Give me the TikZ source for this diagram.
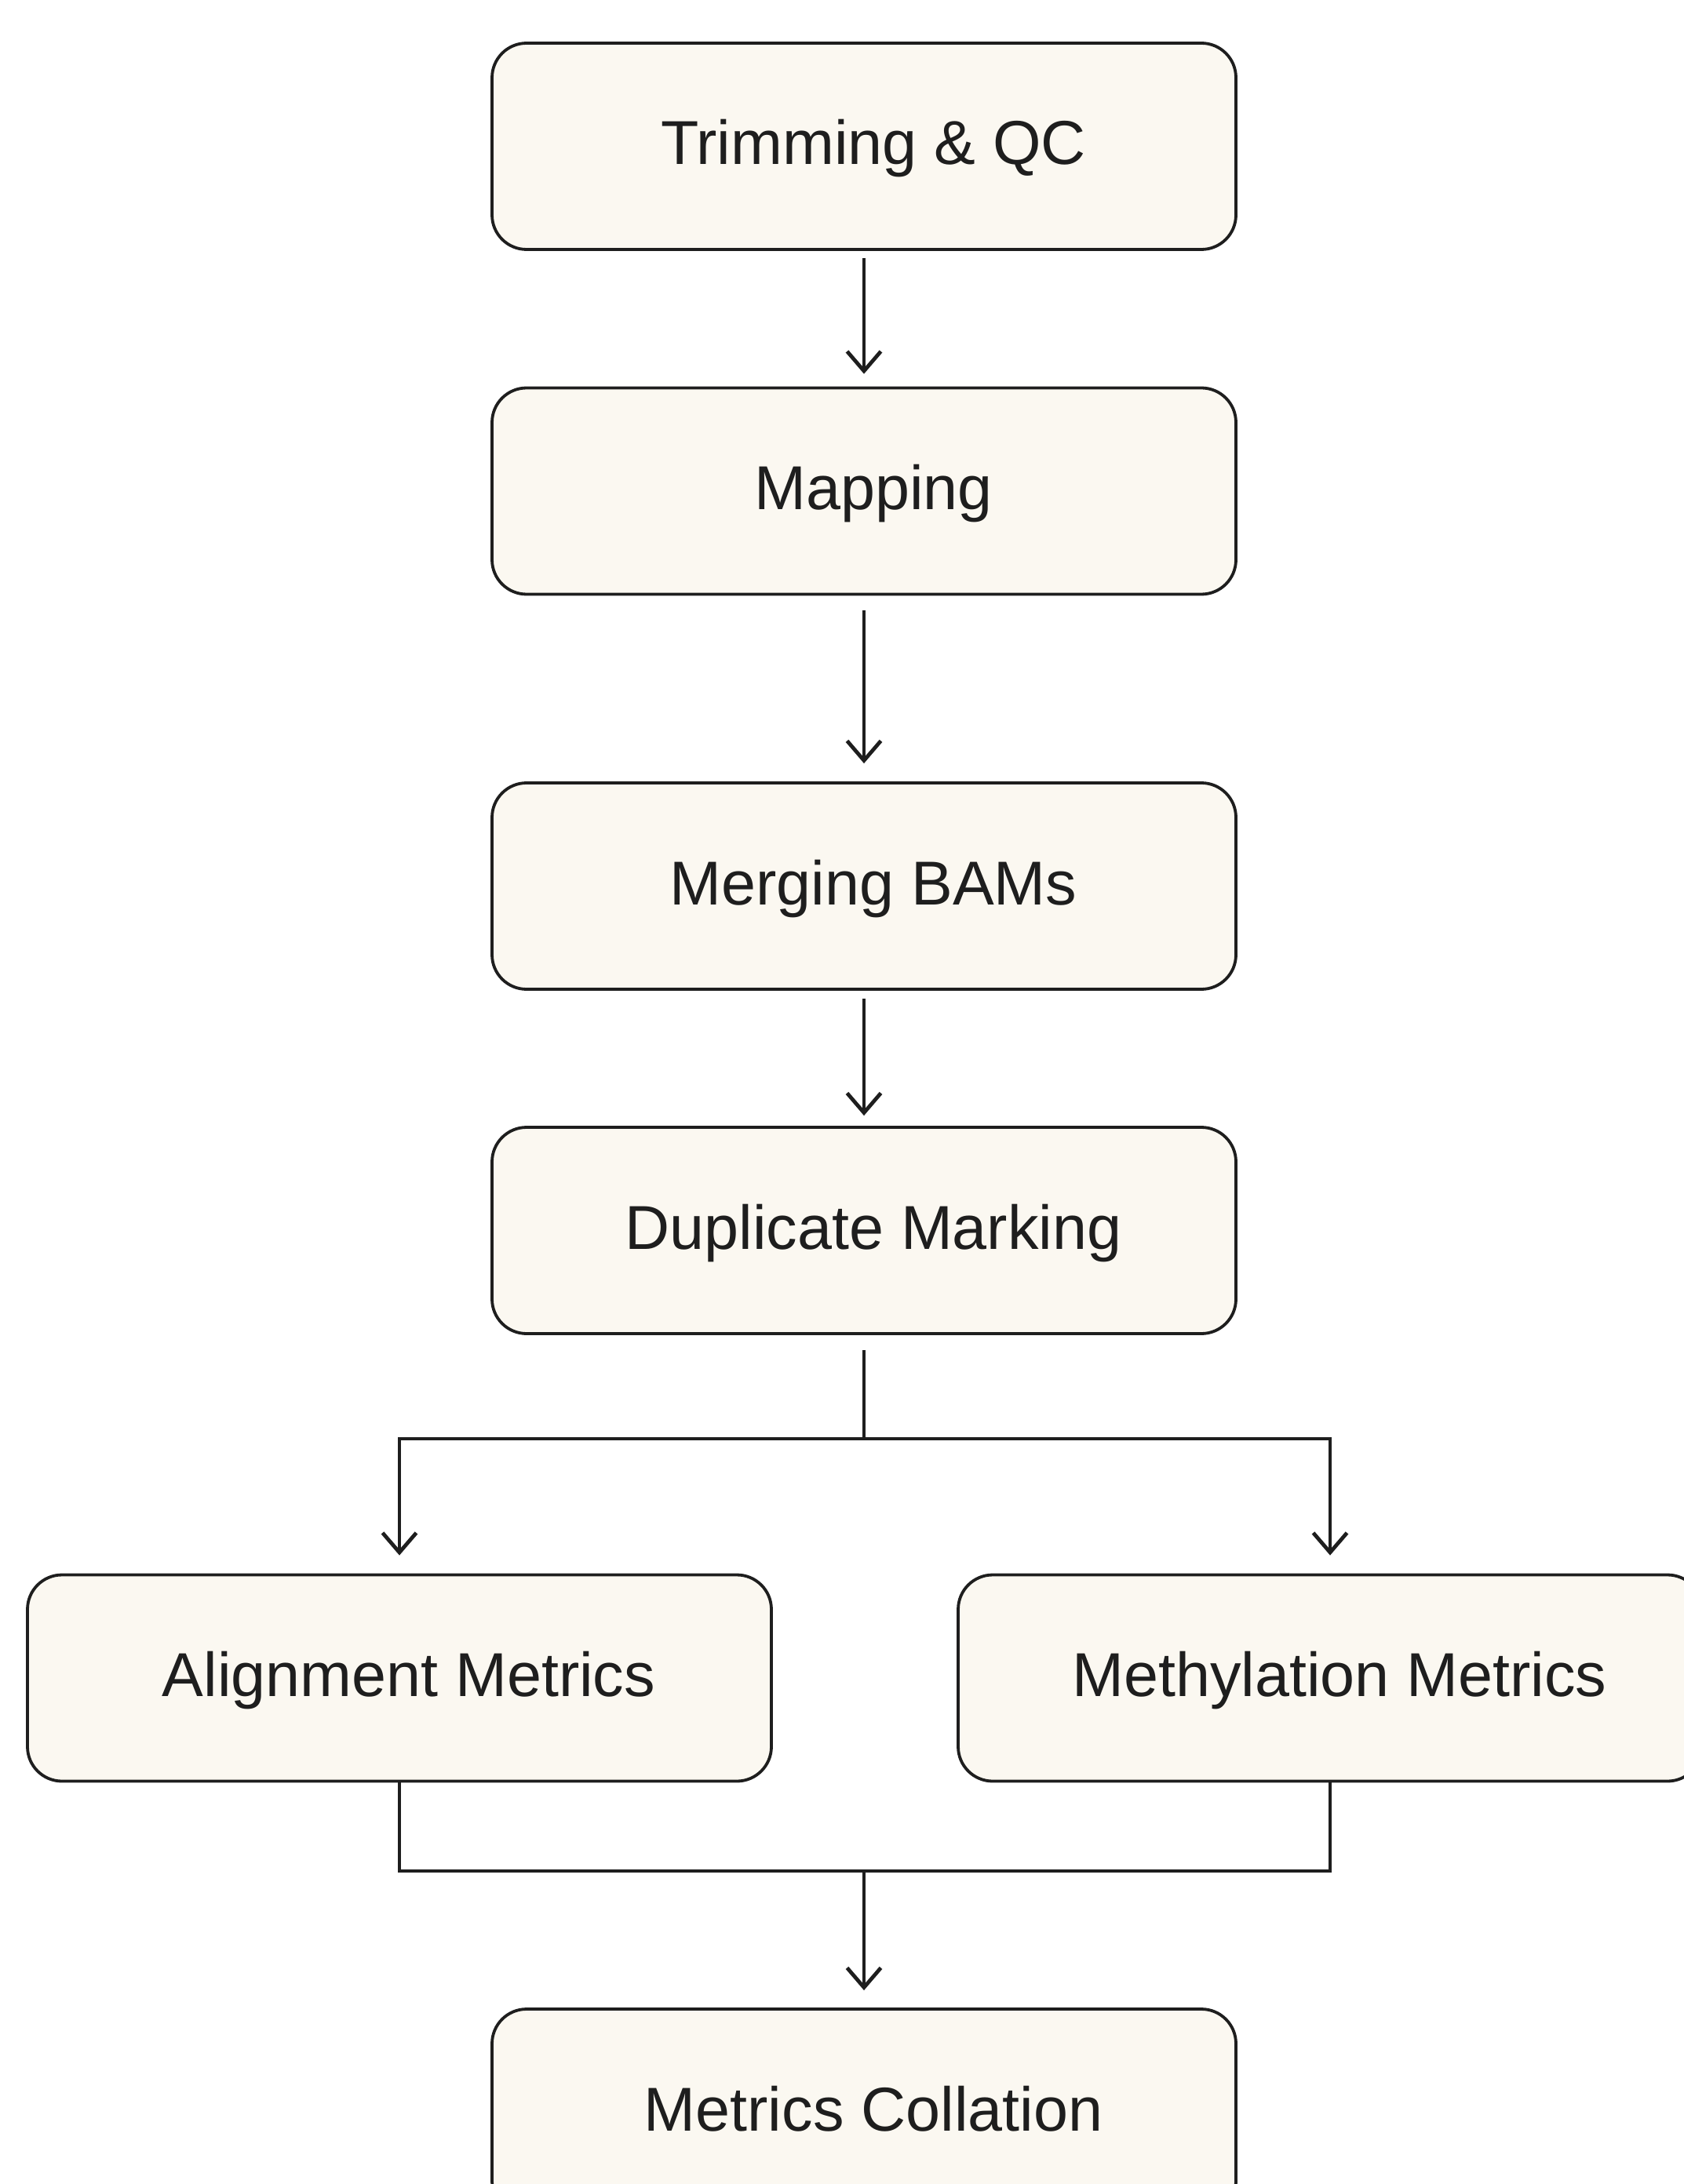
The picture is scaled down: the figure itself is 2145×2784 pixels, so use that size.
\documentclass[tikz,border=0pt]{standalone}
\usepackage{fontspec}
\setmainfont{Liberation Sans}
\usetikzlibrary{arrows.meta}
\definecolor{boxfill}{HTML}{FBF8F1}
\definecolor{inkline}{HTML}{1E1E1E}

\begin{document}
\begin{tikzpicture}[x=0.1mm,y=0.1mm,yscale=-1,
    stage/.style={draw=inkline, fill=boxfill, rounded corners=4.4mm, line width=0.38mm,
      minimum width=94.8mm, minimum height=26.3mm, text=inkline,
      text height=5.6mm, text depth=0.9mm,
      font=\fontsize{22.5}{27}\selectfont,
      execute at begin node=\hspace*{2.4mm}},
    wire/.style={draw=inkline, line width=0.48mm},
    flow/.style={wire, -{Straight Barb[length=2.5mm,width=4.3mm,line width=0.48mm]}}]
    %set diagram size
    \useasboundingbox (0,0) rectangle (2145,2784);

    % Stages
    \node[stage] (trim) at (1101,186.5) {Trimming \& QC};
    \node[stage] (map) at (1101,626) {Mapping};
    \node[stage] (merge) at (1101,1129.5) {Merging BAMs};
    \node[stage] (dup) at (1101,1568.5) {Duplicate Marking};
    \node[stage] (align) at (509,2139) {Alignment Metrics};
    \node[stage] (meth) at (1695,2139) {Methylation Metrics};
    \node[stage] (collate) at (1101,2692.5) {Metrics Collation};

    % Branch points
    \coordinate (fork) at (1101,1834);
    \coordinate (join) at (1101,2385);

    % Straight Lines
    \draw[flow, shorten <=0.9mm, shorten >=1.6mm] (trim) -- (map);
    \draw[flow, shorten <=1.9mm, shorten >=2.3mm] (map) -- (merge);
    \draw[flow, shorten <=1.0mm, shorten >=1.3mm] (merge) -- (dup);
    % split
    \draw[wire, shorten <=1.9mm] (dup) -- (fork);
    \draw[flow, shorten >=2.3mm] (fork) -| (align);
    \draw[flow, shorten >=2.3mm] (fork) -| (meth);
    % merge
    \draw[wire] (align) |- (join);
    \draw[wire] (meth) |- (join);
    \draw[flow, shorten >=2.2mm] (join) -- (collate);
\end{tikzpicture}
\end{document}
